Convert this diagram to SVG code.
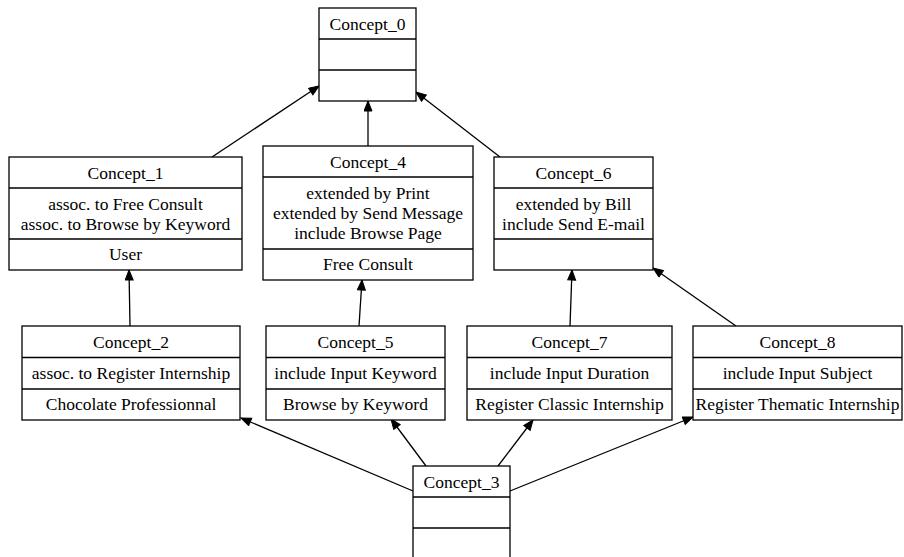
<svg xmlns="http://www.w3.org/2000/svg" width="904" height="557" viewBox="0 0 904 557">
<defs>
<marker id="arr" markerUnits="userSpaceOnUse" markerWidth="12" markerHeight="10" refX="11" refY="4.5" orient="auto">
<path d="M1,0.5 L11,4.5 L1,8.5 z" fill="#000" stroke="#000" stroke-width="1"/>
</marker>
<style>
.box{fill:#fff;stroke:#000;stroke-width:1.3}
.sep{stroke:#000;stroke-width:1.3}
text{font-family:"Liberation Serif","Times New Roman",serif;font-size:17.5px;fill:#000;text-anchor:middle}
.edge{stroke:#000;stroke-width:1.3;fill:none;marker-end:url(#arr)}
</style>
</defs>
<rect width="904" height="557" fill="#fff"/>
<g id="edges">
<line class="edge" x1="212" y1="157" x2="319" y2="86"/>
<line class="edge" x1="368" y1="146" x2="368" y2="101"/>
<line class="edge" x1="500" y1="157" x2="416" y2="92"/>
<line class="edge" x1="130" y1="326" x2="129" y2="270"/>
<line class="edge" x1="359" y1="326" x2="362" y2="280"/>
<line class="edge" x1="570" y1="326" x2="572" y2="270"/>
<line class="edge" x1="736" y1="326" x2="653" y2="268"/>
<line class="edge" x1="413" y1="491" x2="241" y2="418"/>
<line class="edge" x1="426" y1="466" x2="391" y2="419"/>
<line class="edge" x1="498" y1="466" x2="533" y2="420"/>
<line class="edge" x1="510" y1="491" x2="693" y2="417"/>
</g>
<g id="Concept_0">
<rect class="box" x="319" y="8" width="97" height="93"/>
<line class="sep" x1="319" y1="39" x2="416" y2="39"/>
<line class="sep" x1="319" y1="70" x2="416" y2="70"/>
<text x="367.5" y="29.5">Concept_0</text>
</g>
<g id="Concept_1">
<rect class="box" x="9" y="157" width="233" height="113"/>
<line class="sep" x1="9" y1="188" x2="242" y2="188"/>
<line class="sep" x1="9" y1="239" x2="242" y2="239"/>
<text x="125.5" y="178.5">Concept_1</text>
<text x="125.5" y="209.5">assoc. to Free Consult</text>
<text x="125.5" y="229.5">assoc. to Browse by Keyword</text>
<text x="125.5" y="260">User</text>
</g>
<g id="Concept_4">
<rect class="box" x="263" y="146" width="210" height="134"/>
<line class="sep" x1="263" y1="177" x2="473" y2="177"/>
<line class="sep" x1="263" y1="249" x2="473" y2="249"/>
<text x="368" y="167.5">Concept_4</text>
<text x="368" y="198.5">extended by Print</text>
<text x="368" y="218.5">extended by Send Message</text>
<text x="368" y="238.5">include Browse Page</text>
<text x="368" y="270">Free Consult</text>
</g>
<g id="Concept_6">
<rect class="box" x="494" y="157" width="159" height="113"/>
<line class="sep" x1="494" y1="188" x2="653" y2="188"/>
<line class="sep" x1="494" y1="239" x2="653" y2="239"/>
<text x="573.5" y="178.5">Concept_6</text>
<text x="573.5" y="209.5">extended by Bill</text>
<text x="573.5" y="229.5">include Send E-mail</text>
</g>
<g id="Concept_2">
<rect class="box" x="22" y="326" width="218" height="94"/>
<line class="sep" x1="22" y1="357.5" x2="240" y2="357.5"/>
<line class="sep" x1="22" y1="389" x2="240" y2="389"/>
<text x="131" y="347.5">Concept_2</text>
<text x="131" y="379">assoc. to Register Internship</text>
<text x="131" y="410">Chocolate Professionnal</text>
</g>
<g id="Concept_5">
<rect class="box" x="266" y="326" width="179" height="94"/>
<line class="sep" x1="266" y1="357.5" x2="445" y2="357.5"/>
<line class="sep" x1="266" y1="389" x2="445" y2="389"/>
<text x="355.5" y="347.5">Concept_5</text>
<text x="355.5" y="379">include Input Keyword</text>
<text x="355.5" y="410">Browse by Keyword</text>
</g>
<g id="Concept_7">
<rect class="box" x="467" y="326" width="205" height="94"/>
<line class="sep" x1="467" y1="357.5" x2="672" y2="357.5"/>
<line class="sep" x1="467" y1="389" x2="672" y2="389"/>
<text x="569.5" y="347.5">Concept_7</text>
<text x="569.5" y="379">include Input Duration</text>
<text x="569.5" y="410">Register Classic Internship</text>
</g>
<g id="Concept_8">
<rect class="box" x="693" y="326" width="209" height="94"/>
<line class="sep" x1="693" y1="357.5" x2="902" y2="357.5"/>
<line class="sep" x1="693" y1="389" x2="902" y2="389"/>
<text x="797.5" y="347.5">Concept_8</text>
<text x="797.5" y="379">include Input Subject</text>
<text x="797.5" y="410">Register Thematic Internship</text>
</g>
<g id="Concept_3">
<rect class="box" x="413" y="466" width="97" height="94"/>
<line class="sep" x1="413" y1="497" x2="510" y2="497"/>
<line class="sep" x1="413" y1="528" x2="510" y2="528"/>
<text x="461.5" y="487.5">Concept_3</text>
</g>
</svg>
